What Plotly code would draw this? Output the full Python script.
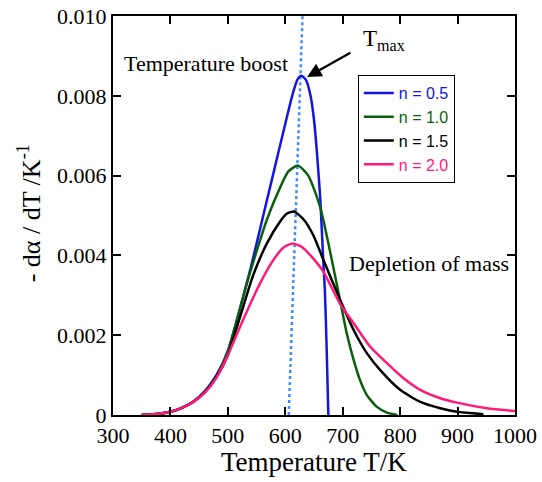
import plotly.graph_objects as go

# ---- data ----
T_n05 = [350, 380, 400, 420, 440, 460, 480, 500, 520, 540, 560, 580, 600, 612, 621, 628, 636, 644, 650, 655, 661, 666, 669, 672, 675]
Y_n05 = [0.0, 0.00003, 0.00008, 0.00018, 0.00034, 0.0006, 0.001, 0.0016, 0.0026, 0.0037, 0.0049, 0.0061, 0.0073, 0.0080, 0.0084, 0.0085, 0.0084, 0.0080, 0.0074, 0.0066, 0.0054, 0.0039, 0.0031, 0.0017, 0.0]

T_n10 = [350, 380, 400, 420, 440, 460, 480, 500, 533, 550, 568, 591, 605, 622, 640, 661, 678, 695, 707, 719, 730, 742, 759, 777, 795]
Y_n10 = [0.0, 0.00003, 0.00008, 0.00018, 0.00033, 0.00058, 0.00097, 0.0016, 0.0033, 0.0041, 0.0049, 0.0057, 0.0061, 0.00625, 0.0060, 0.0052, 0.0041, 0.0029, 0.00205, 0.00138, 0.00088, 0.0005, 0.00021, 0.00006, 0.0]

T_n15 = [350, 380, 400, 420, 440, 460, 480, 500, 520, 544, 568, 591, 603, 615, 632, 649, 666, 695, 719, 742, 765, 800, 835, 870, 899, 945]
Y_n15 = [0.0, 0.00003, 0.00008, 0.00018, 0.00033, 0.00057, 0.00095, 0.0015, 0.0024, 0.0035, 0.0043, 0.00485, 0.00505, 0.0051, 0.0049, 0.0045, 0.0039, 0.0029, 0.00213, 0.00155, 0.00113, 0.00063, 0.00033, 0.00017, 0.00008, 0.00002]

T_n20 = [350, 380, 400, 420, 440, 460, 480, 500, 527, 556, 580, 597, 613, 630, 650, 666, 695, 719, 748, 777, 806, 835, 870, 899, 951, 1000]
Y_n20 = [0.0, 0.00003, 0.00008, 0.00018, 0.00033, 0.00056, 0.00093, 0.0015, 0.0024, 0.0033, 0.0039, 0.0042, 0.0043, 0.0042, 0.0039, 0.0036, 0.0028, 0.0023, 0.00171, 0.0013, 0.00092, 0.00063, 0.00042, 0.00031, 0.00017, 0.0001]

Tmax_line_T = [606, 630]
Tmax_line_Y = [0.0, 0.0100]

x_ticks = [300, 400, 500, 600, 700, 800, 900, 1000]
y_ticks = [0, 0.002, 0.004, 0.006, 0.008, 0.010]
y_tick_labels = ["0", "0.002", "0.004", "0.006", "0.008", "0.010"]

series = [
    ("n = 0.5", T_n05, Y_n05, "#1414e6"),
    ("n = 1.0", T_n10, Y_n10, "#0b5e0b"),
    ("n = 1.5", T_n15, Y_n15, "#000000"),
    ("n = 2.0", T_n20, Y_n20, "#ff1a78"),
]

serif = "Liberation Serif, Times New Roman, serif"
sans = "Liberation Sans, Arial, sans-serif"

fig = go.Figure()

fig.add_trace(go.Scatter(x=Tmax_line_T, y=Tmax_line_Y, mode="lines",
                         line=dict(color="#3d8cff", width=2.5, dash="dot"),
                         showlegend=False, hoverinfo="skip"))

for name, T, Y, col in series:
    fig.add_trace(go.Scatter(
        x=T, y=Y, mode="lines",
        name=f'<span style="color:{col}">{name}</span>',
        line=dict(color=col, width=2.5, shape="spline", smoothing=0.6),
    ))

axis_common = dict(showline=True, linecolor="black", linewidth=2, mirror="ticks",
                   ticks="inside", ticklen=8, tickwidth=2, tickcolor="black",
                   showgrid=False, zeroline=False, automargin=False)

fig.update_xaxes(range=[300, 1000], tickvals=x_ticks,
                 tickfont=dict(family=serif, size=22, color="black"),
                 **axis_common)
fig.update_yaxes(range=[0, 0.010], tickvals=y_ticks, ticktext=y_tick_labels,
                 tickfont=dict(family=serif, size=22, color="black"),
                 **axis_common)

# axis titles
fig.add_annotation(x=0.5, y=-0.118, xref="paper", yref="paper", text="Temperature T/K",
                   showarrow=False, xanchor="center", yanchor="middle",
                   font=dict(family=serif, size=27, color="black"))
fig.add_annotation(x=-0.207, y=0.505, xref="paper", yref="paper",
                   text="- d\u03b1 / dT /K<sup>-1</sup>", textangle=-90,
                   showarrow=False, xanchor="center", yanchor="middle",
                   font=dict(family=serif, size=26, color="black"))

fig.add_annotation(x=0.022, y=0.0088, xref="paper", yref="y", text="Temperature boost",
                   showarrow=False, xanchor="left", yanchor="middle",
                   font=dict(family=serif, size=22, color="black"))
fig.add_annotation(x=0.99, y=0.0038, xref="paper", yref="y", text="Depletion of mass",
                   showarrow=False, xanchor="right", yanchor="middle",
                   font=dict(family=serif, size=22, color="black"))
fig.add_annotation(x=732, y=0.0094, xref="x", yref="y", text="T<sub>max</sub>",
                   showarrow=False, xanchor="left", yanchor="middle",
                   font=dict(family=serif, size=23, color="black"))
fig.add_annotation(x=638, y=0.00847, ax=716, ay=0.0091, xref="x", yref="y",
                   axref="x", ayref="y", text="", showarrow=True,
                   arrowhead=2, arrowsize=1.3, arrowwidth=2.2, arrowcolor="black")

fig.update_layout(
    width=542, height=482,
    margin=dict(l=113, r=27, t=16, b=67),
    paper_bgcolor="white", plot_bgcolor="white",
    legend=dict(x=0.609, y=0.852, xanchor="left", yanchor="top",
                bordercolor="black", borderwidth=1, bgcolor="white",
                font=dict(family=sans, size=16), tracegroupgap=0,
                itemwidth=30),
    showlegend=True,
)

fig.write_html("out.html", config={"displayModeBar": False},
               post_script="document.body.style.margin='0';document.body.style.padding='0';")
